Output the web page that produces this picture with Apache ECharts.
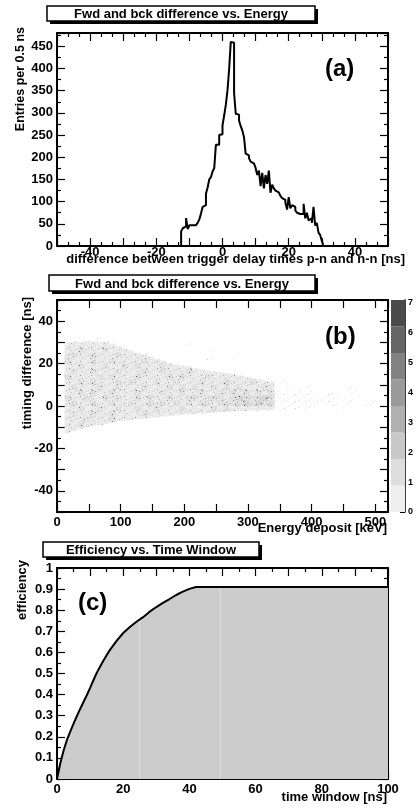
<!DOCTYPE html>
<html>
<head>
<meta charset="utf-8">
<script src="https://cdn.jsdelivr.net/npm/echarts@6.0.0/dist/echarts.min.js"></script>
<style>
  html, body { margin: 0; padding: 0; background: #fff; }
  #main { width: 419px; height: 808px; }
</style>
</head>
<body>
<div id="main"></div>
<script>
// ---- (a) p-n minus n-n trigger delay difference, 0.5 ns bins from -12.5 ns
const histStart = -12.5;
const histBinWidth = 0.5;
const histCounts = [
  33, 40, 44, 63, 38, 47, 47, 46, 47, 48, 52, 60, 73, 88, 92, 118, 132, 150, 155, 168,
  175, 228, 228, 250, 252, 272, 294, 318, 350, 398, 460, 458, 345, 298, 296, 283, 270, 260, 245, 208,
  204, 198, 190, 186, 182, 176, 160, 170, 135, 165, 130, 160, 140, 170, 120, 138, 130, 125, 121, 118,
  113, 108, 104, 98, 82, 110, 85, 92, 88, 80, 75, 72, 68, 72, 95, 62, 75, 58, 62, 52,
  88, 46, 52, 30, 25, 12
];

// ---- (b) timing difference vs energy deposit
// populated band, 10 keV columns from 12 keV: upper / lower edge in ns
const mapXStart = 12;
const mapXStep = 10;
const bandTop = [30, 30.5, 30.5, 30.5, 30.5, 30.5, 30.4, 29.4, 28.3, 27.2, 26.1, 25.1, 24.3, 23.3, 22.3, 21.3, 20.3,
  19.6, 19, 18.6, 17.8, 17.2, 16.7, 16.3, 15.9, 15.5, 15.1, 14.4, 13.8, 13.3, 12.6, 12, 11.5];
const bandBottom = [-12.6, -11.8, -11, -10.2, -9.6, -9, -8.4, -7.8, -7.2, -6.8, -6.5, -6.2, -5.9, -5.6, -5.3, -4.9, -4.6,
  -4.4, -4.1, -3.9, -3.7, -3.5, -3.3, -3.1, -2.9, -2.7, -2.5, -2.4, -2.3, -2.2, -2.1, -2, -1.8];
// denser spots and sparse entries, 10 keV x 2.5 ns cells, top row first
// '.' nothing extra, '0' isolated entries, '2'/'3' denser than the band average
const mapYTop = 32.5;
const mapYStep = 2.5;
const mapRows = [
  '..0..0.... .......... .......... .......... ..........',
  '.......... .........0 .......... .......... ..........',
  '..2...2... .......... ...0...... .......... ..........',
  '.2..2...2. .......... ......0... .......... ..........',
  '2...2..2.. ..2....... ..0....... .......... ..........',
  '..2...2..2 .2...2.... .......... .......... ..........',
  '.2..2...2. ..2..2...2 .......... .......... ..........',
  '2....2.2.. .2....2.2. ..2....... .......... ..........',
  '..2.2...2. 2...2..2.. .2...2...2 ....0..... ..........',
  '.2...2..2. ..2...2.2. 2..2.2.2.. .2.0.0..0. ....0.....',
  '..2.2..2.. .2...2..2. .2..2.2.2. 2.200.000. .0...0....',
  '2..2..2.2. .2.2..2..2 2.222.2322 2320000000 0.00..0.0.',
  '.2..2..2.. 2..2.2.2.2 .22.222232 3220000000 .00.0..00.',
  '..2..2..2. .2..2...2. ...2.2.... ...00.0.0. ..0.......',
  '.2..2..2.. ..2....... .......... .......... ..........',
  '...2...2.. .......... .......... .......... ..........',
  '..2....... .......... .......... .......... ..........'
];
// colour scale (z axis) shown at the right of panel (b)
const zMax = 7.1;
const zColors = ['#efefef', '#dedede', '#c8c8c8', '#b0b0b0', '#9a9a9a', '#828282', '#666666', '#4b4b4b'];

// ---- (c) efficiency vs time window
const effWindow = [0, 1, 2, 3, 4, 5, 6, 7, 8, 9, 10, 11, 12, 13, 14, 15, 16, 18, 20, 22,
  24, 26, 28, 30, 32, 34, 36, 38, 40, 42, 100];
const effValue = [0, 0.075, 0.135, 0.185, 0.225, 0.262, 0.298, 0.332, 0.365, 0.397, 0.432, 0.468, 0.503, 0.532, 0.56, 0.587, 0.612, 0.655, 0.692, 0.72,
  0.745, 0.767, 0.793, 0.815, 0.835, 0.853, 0.872, 0.888, 0.901, 0.91, 0.91];
const effGaps = [24.7, 49.2]; // faint light lines inside the filled area

const FONT = '"Liberation Sans", Arial, Helvetica, sans-serif';

// histogram outline as bin corners
const histLine = [[histStart, 0]];
histCounts.forEach((c, i) => {
  const lo = histStart + i * histBinWidth;
  histLine.push([lo, c], [lo + histBinWidth, c]);
});
histLine.push([histStart + histCounts.length * histBinWidth, 0]);

const bandCells = bandTop.map((top, i) => [mapXStart + i * mapXStep, bandBottom[i], top]);

const mapCells = [];
mapRows.forEach((row, r) => {
  row.replace(/ /g, '').split('').forEach((ch, c) => {
    if (ch === '.') return;
    const y0 = mapYTop - (r + 1) * mapYStep;
    mapCells.push([mapXStart + c * mapXStep, y0, y0 + mapYStep, Number(ch)]);
  });
});

const effLine = effWindow.map((t, i) => [t, effValue[i]]);
function effAt(t) {
  for (let i = 1; i < effWindow.length; i++) {
    if (t <= effWindow[i]) {
      const f = (t - effWindow[i - 1]) / (effWindow[i] - effWindow[i - 1]);
      return effValue[i - 1] + f * (effValue[i] - effValue[i - 1]);
    }
  }
  return effValue[effValue.length - 1];
}

// speckled fills so the coarse cells look like a fine-binned scatter
function speckle(base, dots) {
  const cv = document.createElement('canvas');
  cv.width = 11; cv.height = 7;
  const g = cv.getContext('2d');
  g.fillStyle = base;
  g.fillRect(0, 0, 11, 7);
  dots.forEach(d => { g.fillStyle = d[2]; g.fillRect(d[0], d[1], 1, 1); });
  return { image: cv, repeat: 'repeat' };
}
const cellFills = [
  speckle('#ffffff', [[1, 1, '#dcdcdc'], [6, 4, '#e6e6e6'], [9, 2, '#c8c8c8'], [3, 6, '#e0e0e0']]),
  speckle('#e9e9e9', [[1, 1, '#ffffff'], [5, 0, '#bdbdbd'], [8, 3, '#ffffff'], [3, 4, '#9a9a9a'], [9, 6, '#d0d0d0'],
    [6, 5, '#ffffff'], [0, 5, '#c8c8c8'], [7, 2, '#d6d6d6'], [10, 0, '#f6f6f6']]),
  speckle('#e0e0e0', [[2, 1, '#777777'], [6, 3, '#adadad'], [9, 0, '#ffffff'], [4, 5, '#5a5a5a'], [10, 4, '#bdbdbd'],
    [0, 3, '#ffffff'], [7, 6, '#9a9a9a'], [5, 2, '#f2f2f2']]),
  speckle('#d4d4d4', [[1, 2, '#555555'], [5, 0, '#888888'], [8, 4, '#444444'], [3, 5, '#999999'], [10, 1, '#777777'],
    [6, 6, '#f0f0f0'], [2, 6, '#666666']])
];

// value = [x0, y0, y1, level]
function cellRect(params, api) {
  const p0 = api.coord([api.value(0), api.value(2)]);
  const p1 = api.coord([api.value(0) + mapXStep, api.value(1)]);
  return {
    type: 'rect',
    shape: { x: p0[0], y: p0[1], width: p1[0] - p0[0], height: p1[1] - p0[1] },
    style: { fill: cellFills[Math.min(api.value(3), cellFills.length - 1)] }
  };
}

function everyFmt(step) {
  return v => (Math.abs(v / step - Math.round(v / step)) < 1e-6 ? String(v) : '');
}

function frameAxis(gridIndex, position, r, labels) {
  return {
    type: 'value', gridIndex, position,
    min: r.min, max: r.max, interval: r.interval,
    axisLine: { show: true, onZero: false, lineStyle: { color: '#000', width: 2 } },
    axisTick: { show: true, inside: true, length: 8, lineStyle: { color: '#000', width: 1.2 } },
    minorTick: { show: r.minor > 1, splitNumber: r.minor || 2, length: 4, lineStyle: { color: '#000', width: 1.2 } },
    splitLine: { show: false },
    axisLabel: labels ? {
      show: true, margin: r.margin === undefined ? 4 : r.margin, color: '#000',
      fontFamily: FONT, fontWeight: 'bold', fontSize: 13, formatter: r.fmt
    } : { show: false }
  };
}

const ax = {
  aX: { min: -50, max: 50, interval: 10, minor: 3, margin: 0, fmt: everyFmt(20) },
  aY: { min: 0, max: 480, interval: 50, minor: 2, fmt: everyFmt(50) },
  bX: { min: 0, max: 520, interval: 50, minor: 0, fmt: everyFmt(100) },
  bY: { min: -50, max: 50, interval: 10, minor: 2, fmt: everyFmt(20) },
  cX: { min: 0, max: 100, interval: 10, minor: 2, fmt: everyFmt(20) },
  cY: { min: 0, max: 1, interval: 0.1, minor: 2, fmt: v => String(+v.toFixed(1)) }
};

function titleBox(x, y, w, h, text) {
  return [
    { type: 'rect', shape: { x: x + 3, y: y + 3, width: w, height: h }, style: { fill: '#000' } },
    { type: 'rect', shape: { x, y, width: w, height: h }, style: { fill: '#fff', stroke: '#000', lineWidth: 1.5 } },
    { type: 'text', x: x + w / 2, y: y + h / 2 + 1,
      style: { text, font: 'bold 13px ' + FONT, fill: '#000', align: 'center', verticalAlign: 'middle',
        textAlign: 'center', textVerticalAlign: 'middle' } }
  ];
}

function label(text, x, y, opts) {
  const o = opts || {};
  return {
    type: 'text', x, y, rotation: o.rot || 0,
    style: { text, font: 'bold ' + (o.size || 13) + 'px ' + FONT, fill: '#000',
      align: o.align || 'right', verticalAlign: 'middle',
      textAlign: o.align || 'right', textVerticalAlign: 'middle' }
  };
}

const chart = echarts.init(document.getElementById('main'));

const option = {
  animation: false,
  backgroundColor: '#fff',
  grid: [
    { left: 57, top: 33, width: 331, height: 213 },
    { left: 57, top: 300, width: 331, height: 212 },
    { left: 57, top: 568, width: 331, height: 211 },
    { left: 391, top: 300, width: 14, height: 212 }
  ],
  xAxis: [
    frameAxis(0, 'bottom', ax.aX, true),
    frameAxis(0, 'top', ax.aX, false),
    frameAxis(1, 'bottom', ax.bX, true),
    frameAxis(1, 'top', ax.bX, false),
    frameAxis(2, 'bottom', ax.cX, true),
    frameAxis(2, 'top', ax.cX, false),
    { type: 'category', gridIndex: 3, data: ['z'], show: false }
  ],
  yAxis: [
    frameAxis(0, 'left', ax.aY, true),
    frameAxis(0, 'right', ax.aY, false),
    frameAxis(1, 'left', ax.bY, true),
    frameAxis(1, 'right', ax.bY, false),
    frameAxis(2, 'left', ax.cY, true),
    frameAxis(2, 'right', ax.cY, false),
    {
      type: 'value', gridIndex: 3, position: 'right', min: 0, max: zMax, interval: 1,
      axisLine: { show: true, lineStyle: { color: '#000', width: 1.5 } },
      axisTick: { show: true, inside: true, length: 5, lineStyle: { color: '#000' } },
      minorTick: { show: true, splitNumber: 4, length: 3, lineStyle: { color: '#000' } },
      splitLine: { show: false },
      axisLabel: { margin: 3, color: '#000', fontFamily: FONT, fontWeight: 'bold', fontSize: 9,
        formatter: v => (Number.isInteger(v) ? String(v) : '') }
    }
  ],
  series: [
    {
      type: 'line', xAxisIndex: 0, yAxisIndex: 0, data: histLine,
      showSymbol: false, silent: true, clip: true,
      lineStyle: { color: '#000', width: 2 }
    },
    {
      type: 'custom', xAxisIndex: 2, yAxisIndex: 2, clip: true, silent: true,
      data: bandCells.map(b => [b[0], b[1], b[2], 1]),
      renderItem: cellRect
    },
    {
      type: 'custom', xAxisIndex: 2, yAxisIndex: 2, clip: true, silent: true,
      data: mapCells, renderItem: cellRect
    },
    ...zColors.map(col => ({
      type: 'bar', xAxisIndex: 6, yAxisIndex: 6, stack: 'z', data: [zMax / zColors.length],
      barWidth: '100%', silent: true, itemStyle: { color: col }
    })),
    {
      type: 'line', xAxisIndex: 4, yAxisIndex: 4, data: effLine,
      showSymbol: false, silent: true,
      lineStyle: { color: '#000', width: 2 },
      areaStyle: { color: '#cccccc', opacity: 1 },
      markLine: {
        silent: true, symbol: 'none', label: { show: false },
        lineStyle: { color: '#dedede', width: 1, type: 'solid' },
        data: effGaps.map(t => [{ coord: [t, 0] }, { coord: [t, effAt(t) - 0.005] }])
      }
    }
  ],
  graphic: [
    ...titleBox(47, 6, 268, 15, 'Fwd and bck difference vs. Energy'),
    ...titleBox(49, 275, 266, 16, 'Fwd and bck difference vs. Energy'),
    ...titleBox(43, 542, 216, 15, 'Efficiency vs. Time Window'),
    label('Entries per 0.5 ns', 21, 27, { rot: Math.PI / 2, size: 12.5 }),
    label('difference between trigger delay times p-n and n-n [ns]', 405, 259),
    label('timing difference [ns]', 27, 297, { rot: Math.PI / 2 }),
    label('Energy deposit [keV]', 387, 528),
    label('efficiency', 22, 560, { rot: Math.PI / 2 }),
    label('time window [ns]', 387, 797),
    label('(a)', 325, 69, { align: 'left', size: 24 }),
    label('(b)', 325, 337, { align: 'left', size: 24 }),
    label('(c)', 78, 603, { align: 'left', size: 24 })
  ]
};

chart.setOption(option);
</script>
</body>
</html>
